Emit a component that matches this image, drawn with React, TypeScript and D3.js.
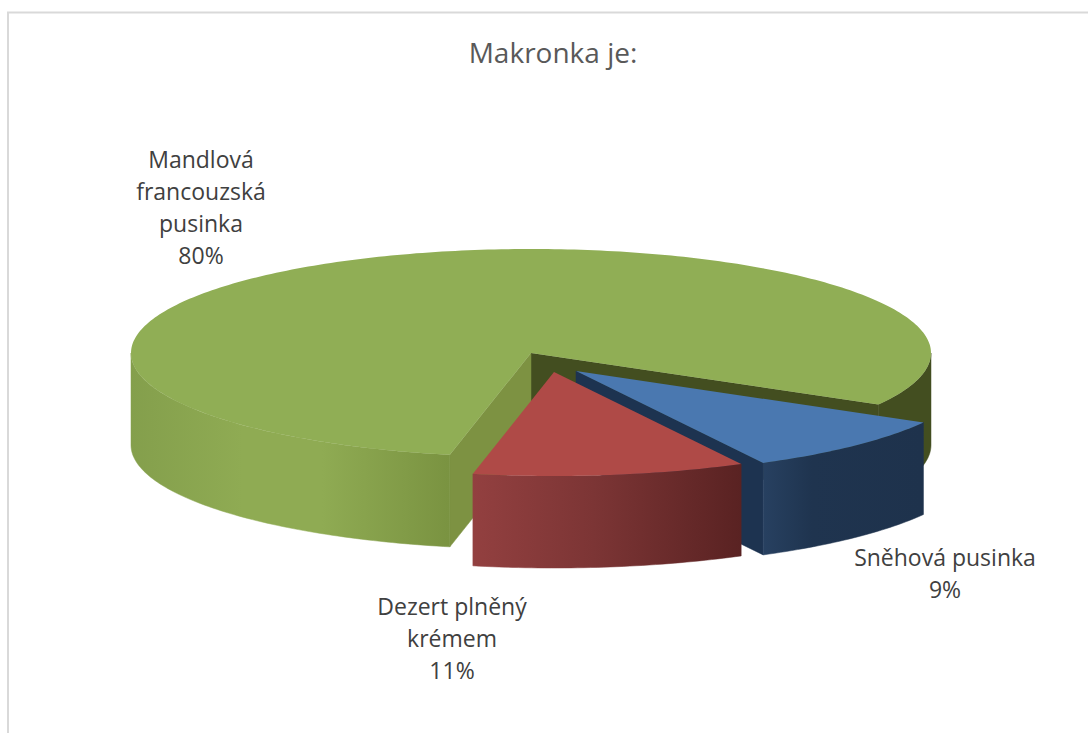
import { line, pie, range, scaleLinear, format } from 'd3'

const categories = ['Sněhová pusinka', 'Dezert plněný krémem', 'Mandlová francouzská pusinka']
const values = [0.09, 0.11, 0.8]
const labelLines = [['Sněhová pusinka'], ['Dezert plněný', 'krémem'], ['Mandlová', 'francouzská', 'pusinka']]

const WIDTH = 1088
const HEIGHT = 733
const FONT = '"Open Sans", "Noto Sans", sans-serif'

// 3D pie seen from above: a flattened ellipse plus a wall below it
const CX = 531
const CY = 353
const RX = 400
const RY = 104
const DEPTH = 92
const START_DEG = 119.7
const RAD = Math.PI / 180

const EXPLODE = [
  { dx: 45, dy: 18 },
  { dx: 23, dy: 19 },
  { dx: 0, dy: 0 },
]
const LABEL_POS = [
  { x: 945, y: 566 },
  { x: 452, y: 615 },
  { x: 201, y: 168 },
]
const TOP_COLORS = ['#4a78b0', '#af4a47', '#90ae55']

const x = scaleLinear().domain([-1, 1]).range([CX - RX, CX + RX])
const y = scaleLinear().domain([-1, 1]).range([CY - RY, CY + RY])
const path = line<number[]>()
  .x((d) => d[0])
  .y((d) => d[1])

const slices = pie<number>()
  .sort(null)
  .startAngle(START_DEG * RAD)
  .endAngle(START_DEG * RAD + 2 * Math.PI)(values)

function rim(a0: number, a1: number, dx: number, dy: number) {
  const n = Math.max(2, Math.ceil(Math.abs(a1 - a0) * 60))
  return range(n + 1).map((i) => {
    const a = a0 + ((a1 - a0) * i) / n
    return [x(Math.sin(a)) + dx, y(-Math.cos(a)) + dy]
  })
}

function topPath(a0: number, a1: number, dx: number, dy: number) {
  return path([[CX + dx, CY + dy], ...rim(a0, a1, dx, dy)]) + 'Z'
}

function wallPath(a0: number, a1: number, dx: number, dy: number) {
  return path([...rim(a0, a1, dx, dy), ...rim(a1, a0, dx, dy + DEPTH)]) + 'Z'
}

function sidePath(a: number, dx: number, dy: number) {
  const p = rim(a, a, dx, dy)[0]
  return path([[CX + dx, CY + dy], p, [p[0], p[1] + DEPTH], [CX + dx, CY + dy + DEPTH]]) + 'Z'
}

function Grad({ id, x1, x2, stops }: { id: string; x1: number; x2: number; stops: [number, string][] }) {
  return (
    <linearGradient id={id} gradientUnits="userSpaceOnUse" x1={x1} x2={x2} y1={0} y2={0}>
      {stops.map(([o, c]) => (
        <stop key={o} offset={o} stopColor={c} />
      ))}
    </linearGradient>
  )
}

export default function App() {
  const pct = format('.0%')
  const [blue, red, green] = slices
  const greenEnd = green.endAngle - 2 * Math.PI

  return (
    <svg
      width={WIDTH}
      height={HEIGHT}
      viewBox={`0 0 ${WIDTH} ${HEIGHT}`}
      style={{ position: 'absolute', left: 0, top: 0, background: '#fff' }}
      role="img"
      aria-label={categories.join(', ')}
    >
      <defs>
        <Grad
          id="wallGreen"
          x1={131}
          x2={449}
          stops={[
            [0, '#849f4c'],
            [0.35, '#8fab53'],
            [0.6, '#8fab53'],
            [1, '#7a9341'],
          ]}
        />
        <Grad
          id="wallRed"
          x1={471}
          x2={743}
          stops={[
            [0, '#934040'],
            [0.45, '#7c3535'],
            [1, '#592222'],
          ]}
        />
        <Grad
          id="wallBlue"
          x1={765}
          x2={922}
          stops={[
            [0, '#274060'],
            [0.3, '#1f344f'],
            [1, '#1e324c'],
          ]}
        />
      </defs>

      {/* chart frame, cut by the screenshot on the right and bottom */}
      <path d={`M8,${HEIGHT} V12.5 H${WIDTH}`} fill="none" stroke="#d9d9d9" strokeWidth={2} />

      <text x={553} y={63} textAnchor="middle" fontFamily={FONT} fontSize={28} fill="#595959">
        Makronka je:
      </text>

      {/* green: walls first, its top covers them */}
      <path d={sidePath(greenEnd, 0, 0)} fill="#434e20" stroke="#434e20" strokeWidth={0.5} />
      <path d={sidePath(green.startAngle, 0, 0)} fill="#7d9242" stroke="#7d9242" strokeWidth={0.5} />
      <path d={wallPath(90 * RAD, greenEnd, 0, 0)} fill="#434e20" stroke="#434e20" strokeWidth={0.5} />
      <path d={wallPath(green.startAngle, 270 * RAD, 0, 0)} fill="url(#wallGreen)" stroke="url(#wallGreen)" strokeWidth={0.5} />
      <path d={topPath(green.startAngle, green.endAngle, 0, 0)} fill={TOP_COLORS[2]} />

      {/* blue */}
      <path d={sidePath(blue.endAngle, EXPLODE[0].dx, EXPLODE[0].dy)} fill="#1d3350" stroke="#1d3350" strokeWidth={0.5} />
      <path
        d={wallPath(blue.startAngle, blue.endAngle, EXPLODE[0].dx, EXPLODE[0].dy)}
        fill="url(#wallBlue)"
        stroke="url(#wallBlue)"
        strokeWidth={0.5}
      />
      <path d={topPath(blue.startAngle, blue.endAngle, EXPLODE[0].dx, EXPLODE[0].dy)} fill={TOP_COLORS[0]} />

      {/* red */}
      <path
        d={wallPath(red.startAngle, red.endAngle, EXPLODE[1].dx, EXPLODE[1].dy)}
        fill="url(#wallRed)"
        stroke="url(#wallRed)"
        strokeWidth={0.5}
      />
      <path d={topPath(red.startAngle, red.endAngle, EXPLODE[1].dx, EXPLODE[1].dy)} fill={TOP_COLORS[1]} />

      {categories.map((c, i) => {
        const lines = [...labelLines[i], pct(values[i])]
        return (
          <text key={c} textAnchor="middle" fontFamily={FONT} fontSize={23} fill="#404040">
            {lines.map((t, j) => (
              <tspan key={t} x={LABEL_POS[i].x} y={LABEL_POS[i].y + j * 32}>
                {t}
              </tspan>
            ))}
          </text>
        )
      })}
    </svg>
  )
}
